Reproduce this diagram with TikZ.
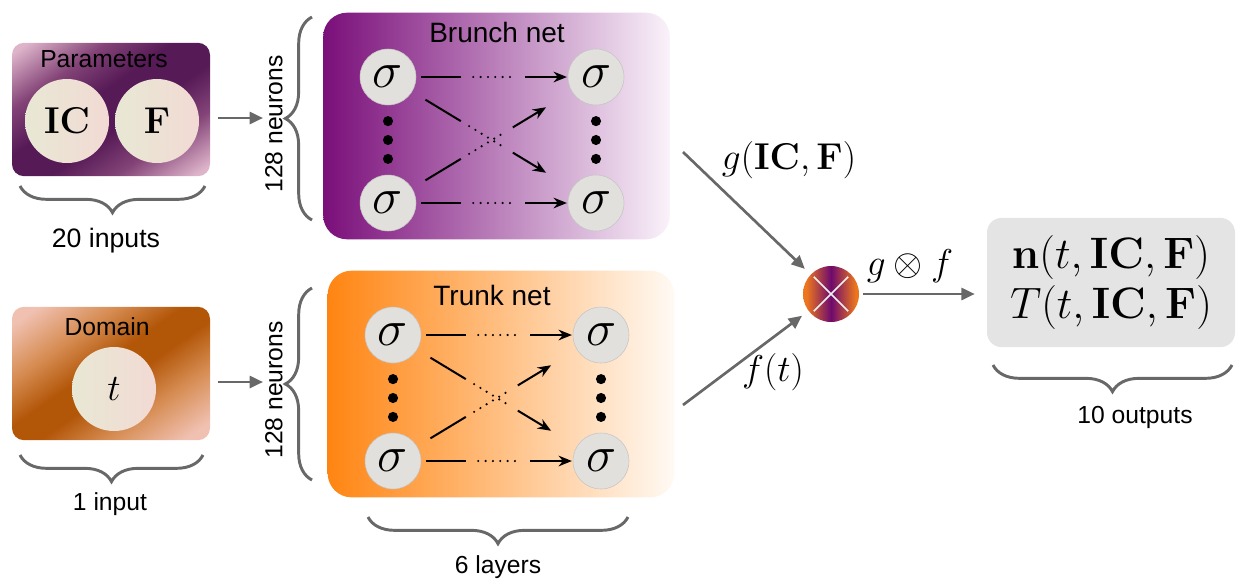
\RequirePackage{fix-cm}
\documentclass[tikz,border=0pt]{standalone}
\usepackage[no-math]{fontspec}
\newfontfamily\netfont{Liberation Sans}
\usepackage{amsmath,bm}
\usetikzlibrary{shapes,positioning,calc,arrows.meta,decorations.pathreplacing}

\definecolor{brpurple}{RGB}{122,14,122}
\definecolor{brlight}{RGB}{250,242,250}
\definecolor{trorange}{RGB}{255,133,18}
\definecolor{trlight}{RGB}{255,250,244}
\definecolor{pardark}{RGB}{86,26,86}
\definecolor{parpink}{RGB}{222,180,202}
\definecolor{parmid}{RGB}{132,68,120}
\definecolor{domdark}{RGB}{178,86,8}
\definecolor{dompink}{RGB}{240,192,176}
\definecolor{dommid}{RGB}{214,140,82}
\definecolor{creamA}{RGB}{232,232,212}
\definecolor{creamB}{RGB}{242,218,212}
\definecolor{neurfill}{RGB}{226,224,220}
\definecolor{neurline}{RGB}{196,196,196}
\definecolor{flowgray}{RGB}{104,104,104}
\definecolor{outgray}{RGB}{228,228,228}
\definecolor{mulorange}{RGB}{236,118,30}
\definecolor{mulpurple}{RGB}{110,10,110}

\pgfdeclarehorizontalshading{parshade}{100bp}{color(0bp)=(parpink); color(18bp)=(parpink); color(32bp)=(parmid); color(44bp)=(pardark); color(56bp)=(pardark); color(68bp)=(parmid); color(82bp)=(parpink); color(100bp)=(parpink)}
\pgfdeclarehorizontalshading{domshade}{100bp}{color(0bp)=(dompink); color(20bp)=(dompink); color(34bp)=(dommid); color(46bp)=(domdark); color(54bp)=(domdark); color(66bp)=(dommid); color(80bp)=(dompink); color(100bp)=(dompink)}
\pgfdeclarehorizontalshading{mulshade}{100bp}{color(0bp)=(mulorange); color(28bp)=(mulorange); color(50bp)=(mulpurple); color(72bp)=(mulorange); color(100bp)=(mulorange)}

\begin{document}
\begin{tikzpicture}[
    x=0.75pt, y=-0.75pt,
    node distance=156pt,
    inbox/.style={rounded corners=9pt, minimum width=148.5pt, minimum height=100pt, inner sep=0pt, shading angle=-55},
    netbox/.style={rounded corners=18pt, minimum width=260pt, minimum height=170pt, inner sep=0pt},
    outbox/.style={rounded corners=11pt, fill=outgray, minimum width=186pt, minimum height=97pt, align=center, font=\fontsize{33}{38}\selectfont},
    neuron/.style={circle, draw=neurline, fill=neurfill, minimum size=42pt, inner sep=0pt, font=\fontsize{38}{38}\selectfont},
    var/.style={circle, left color=creamA, right color=creamB, minimum size=63pt, inner sep=0pt, font=\fontsize{28}{28}\selectfont},
    title/.style={anchor=base, font=\netfont\fontsize{18.5}{20}\selectfont},
    nettitle/.style={title, font=\netfont\fontsize{21}{24}\selectfont},
    mathlabel/.style={font=\fontsize{28}{28}\selectfont},
    flow/.style={draw=flowgray, line width=2pt, -{Triangle[length=10pt,width=9pt]}},
    curly/.style={draw=flowgray, line width=2.2pt, decorate, decoration={brace, amplitude=20pt}},
    link/.style={line width=1.5pt},
    dots/.style={line width=1.8pt, line cap=round, dash pattern=on 0pt off 5.5pt},
    tip/.style={-{Stealth[length=10pt,width=8pt]}}
    ]
        \useasboundingbox (0,0) rectangle (1237,579);

        % inputs
        \node [inbox, shading=parshade](par) at (111,109.5) {};
        \node [title] at (104,67) {Parameters};
        \node [var](IC) at (67,121) {$\mathbf{IC}$};
        \node [var](F) at (157,121) {$\mathbf{F}$};
        \node [inbox, shading=domshade](dom) at (111,373.5) {};
        \node [title] at (107,335) {Domain};
        \node [var](t) at (114,389) {$t$};

        \draw [curly] (205,186) -- (20,186);
        \node [title, font=\netfont\fontsize{20}{22}\selectfont] at (106,247) {20 inputs};
        \draw [curly] (203,455) -- (20,455);
        \node [title] at (110,510) {1 input};

        % neuron braces
        \draw [curly] (312,220) -- (312,17);
        \coordinate (brtip) at (263,118);
        \node [title, anchor=center, rotate=90] at (274,124) {128 neurons};
        \draw [curly] (312,480) -- (312,288);
        \coordinate (trtip) at (263,382);
        \node [title, anchor=center, rotate=90] at (274,390) {128 neurons};

        \draw [flow, shorten <=6pt] (par.east |- brtip) -- (brtip);
        \draw [flow, shorten <=6pt] (dom.east |- trtip) -- (trtip);

        % brunch net
        \node [netbox, left color=brpurple, right color=brlight](brunch) at (496.5,126) {};
        \node [nettitle] at (497,42) {Brunch net};
        \node [neuron](b1) at (388,77) {$\sigma$};
        \node [neuron](b2) [right of=b1] {$\sigma$};
        \node [neuron](b3) [below of=b1, node distance=94.5pt] {$\sigma$};
        \node [neuron](b4) [below of=b2, node distance=94.5pt] {$\sigma$};

        % trunk net
        \node [netbox, left color=trorange, right color=trlight](trunk) at (501,384) {};
        \node [nettitle] at (492,305) {Trunk net};
        \node [neuron](t1) at (393,335) {$\sigma$};
        \node [neuron](t2) [right of=t1] {$\sigma$};
        \node [neuron](t3) [below of=t1, node distance=94.5pt] {$\sigma$};
        \node [neuron](t4) [below of=t2, node distance=94.5pt] {$\sigma$};

        \foreach \a/\b in {b1/b3,b2/b4,t1/t3,t2/t4}
            \foreach \p in {0.35,0.5,0.65}
                \fill ($(\a)!\p!(\b)$) circle (3.8pt);

        \foreach \a/\b in {b1/b2,b3/b4,t1/t2,t3/t4} {
            \draw [link] ($(\a)!0.16!(\b)$) -- ($(\a)!0.35!(\b)$);
            \draw [link, dots] ($(\a)!0.41!(\b)$) -- ($(\a)!0.60!(\b)$);
            \draw [link, tip] ($(\a)!0.66!(\b)$) -- ($(\a)!0.86!(\b)$);
        }
        \foreach \a/\b in {b1/b4,b3/b2,t1/t4,t3/t2} {
            \draw [link] ($(\a)!0.18!(\b)$) -- ($(\a)!0.35!(\b)$);
            \draw [link, dots] ($(\a)!0.39!(\b)$) -- ($(\a)!0.57!(\b)$);
            \draw [link, tip] ($(\a)!0.60!(\b)$) -- ($(\a)!0.76!(\b)$);
        }

        \draw [curly] (628,517) -- (368,517);
        \node [title] at (498,573) {6 layers};

        % product and output
        \node [circle, shading=mulshade, minimum size=42pt, inner sep=0pt](mul) at (831,294) {};
        \draw [white!88!gray, line width=1.3pt, shorten <=3pt, shorten >=3pt] (mul.north west) -- (mul.south east);
        \draw [white!88!gray, line width=1.3pt, shorten <=3pt, shorten >=3pt] (mul.south west) -- (mul.north east);

        \coordinate (brout) at (683,152);
        \coordinate (trout) at (683,405);
        \draw [flow, shorten >=6pt] (brout) -- (mul);
        \draw [flow, shorten >=6pt] (trout) -- (mul);
        \node [mathlabel] at (789,160) {$g(\mathbf{IC},\mathbf{F})$};
        \node [mathlabel] at (773,372) {$f(t)$};

        \node [outbox](out) at (1111,282.5) {$\mathbf{n}(t,\mathbf{IC},\mathbf{F})$\\$T(t,\mathbf{IC},\mathbf{F})$};
        \draw [flow, shorten <=3pt, shorten >=9pt] (mul) -- (mul -| out.west);
        \node [mathlabel] at (910,266) {$g\otimes f$};

        \draw [curly] (1232,365) -- (993,365);
        \node [title] at (1135,423) {10 outputs};

\end{tikzpicture}
\end{document}
